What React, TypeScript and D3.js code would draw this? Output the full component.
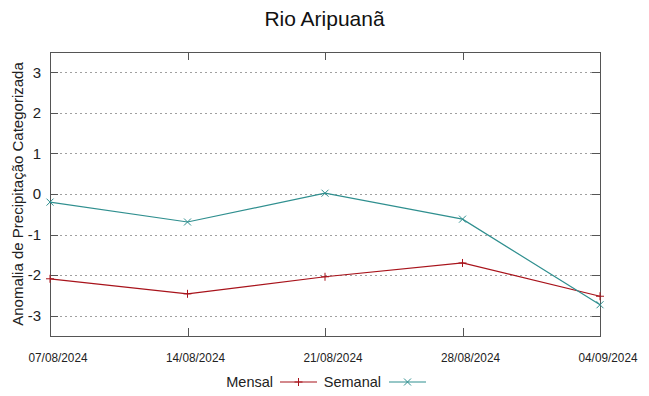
import React, { useEffect, useRef } from 'react';
import * as d3 from 'd3';

const dates = ['2024-08-07', '2024-08-14', '2024-08-21', '2024-08-28', '2024-09-04'];
const mensal = [-2.09, -2.46, -2.04, -1.7, -2.52];
const semanal = [-0.2, -0.69, 0.02, -0.62, -2.73];
const yTicks = [-3, -2, -1, 0, 1, 2, 3];

const RED = '#a8131b';
const TEAL = '#2f8f8f';

const App = () => {
    const svgRef = useRef<SVGSVGElement>(null);

    useEffect(() => {
        const width = 649;
        const height = 396;
        const margin = { left: 50, right: 49, top: 52, bottom: 60 };
        const font = 'Liberation Sans, Arial, sans-serif';

        const svg = d3.select(svgRef.current);
        svg.selectAll('*').remove();
        svg.attr('width', width).attr('height', height);

        const parse = d3.timeParse('%Y-%m-%d');
        const days = dates.map(d => parse(d) as Date);

        const x = d3.scaleTime()
            .domain([days[0], days[days.length - 1]])
            .range([margin.left, width - margin.right]);
        const y = d3.scaleLinear()
            .domain([-3.5, 3.5])
            .range([height - margin.bottom, margin.top]);

        const x0 = margin.left, x1 = width - margin.right;
        const y0 = height - margin.bottom, y1 = margin.top;

        // grid
        svg.append('g').selectAll('line')
            .data(yTicks)
            .enter()
            .append('line')
            .attr('x1', x0).attr('x2', x1)
            .attr('y1', d => Math.round(y(d)) + 0.5).attr('y2', d => Math.round(y(d)) + 0.5)
            .attr('stroke', '#a0a0a0')
            .attr('stroke-dasharray', '2,3')
            .attr('stroke-width', 1);

        // tick marks (inward, mirrored)
        const tk = svg.append('g').attr('stroke', '#555').attr('stroke-width', 1);
        yTicks.forEach(t => {
            const yy = Math.round(y(t)) + 0.5;
            tk.append('line').attr('x1', x0).attr('x2', x0 + 8).attr('y1', yy).attr('y2', yy);
            tk.append('line').attr('x1', x1 - 8).attr('x2', x1).attr('y1', yy).attr('y2', yy);
        });
        days.forEach(d => {
            const xx = Math.round(x(d)) + 0.5;
            tk.append('line').attr('x1', xx).attr('x2', xx).attr('y1', y0).attr('y2', y0 - 8);
            tk.append('line').attr('x1', xx).attr('x2', xx).attr('y1', y1).attr('y2', y1 + 8);
        });

        // border
        svg.append('rect')
            .attr('x', x0 + 0.5).attr('y', y1 + 0.5)
            .attr('width', x1 - x0).attr('height', y0 - y1)
            .attr('fill', 'none')
            .attr('stroke', '#555')
            .attr('stroke-width', 1);

        // y labels
        svg.append('g').selectAll('text')
            .data(yTicks)
            .enter()
            .append('text')
            .attr('x', x0 - 9)
            .attr('y', d => y(d))
            .attr('dy', '0.35em')
            .attr('text-anchor', 'end')
            .attr('font-family', font)
            .attr('font-size', 15)
            .attr('fill', '#222')
            .text(d => d);

        // x labels (narrow face, shifted right like the source)
        const fmt = d3.timeFormat('%d/%m/%Y');
        svg.append('g').selectAll('text')
            .data(days)
            .enter()
            .append('text')
            .attr('x', d => x(d) + 8)
            .attr('y', y0 + 26)
            .attr('text-anchor', 'middle')
            .attr('font-family', 'Liberation Sans Narrow, Liberation Sans, sans-serif')
            .attr('font-size', 13)
            .attr('textLength', 59)
            .attr('lengthAdjust', 'spacingAndGlyphs')
            .attr('fill', '#222')
            .text(d => fmt(d));

        // title
        svg.append('text')
            .attr('x', width / 2)
            .attr('y', 26)
            .attr('text-anchor', 'middle')
            .attr('font-family', font)
            .attr('font-size', 21)
            .attr('fill', '#111')
            .text('Rio Aripuanã');

        // y axis title
        svg.append('text')
            .attr('transform', `translate(23, ${(y0 + y1) / 2}) rotate(-90)`)
            .attr('text-anchor', 'middle')
            .attr('font-family', font)
            .attr('font-size', 15)
            .attr('fill', '#222')
            .text('Anomalia de Precipitação Categorizada');

        const line = d3.line<number>()
            .x((_, i) => x(days[i]))
            .y(d => y(d));

        const plus = (g: any, cx: number, cy: number, color: string) => {
            g.append('path')
                .attr('d', `M${cx - 4},${cy}H${cx + 4}M${cx},${cy - 4}V${cy + 4}`)
                .attr('stroke', color).attr('stroke-width', 1);
        };
        const cross = (g: any, cx: number, cy: number, color: string) => {
            g.append('path')
                .attr('d', `M${cx - 3.5},${cy - 3.5}L${cx + 3.5},${cy + 3.5}M${cx - 3.5},${cy + 3.5}L${cx + 3.5},${cy - 3.5}`)
                .attr('stroke', color).attr('stroke-width', 1);
        };

        const series = [
            { name: 'Mensal', values: mensal, color: RED, mark: plus },
            { name: 'Semanal', values: semanal, color: TEAL, mark: cross },
        ];

        series.forEach(s => {
            const g = svg.append('g');
            g.append('path')
                .datum(s.values)
                .attr('d', line)
                .attr('fill', 'none')
                .attr('stroke', s.color)
                .attr('stroke-width', 1.2);
            s.values.forEach((v, i) => s.mark(g, x(days[i]), y(v), s.color));
        });

        // legend
        const ly = 382;
        const legendPos = [{ textEnd: 273, lx: 280 }, { textEnd: 381, lx: 389 }];
        series.forEach((s, i) => {
            const p = legendPos[i];
            svg.append('text')
                .attr('x', p.textEnd)
                .attr('y', ly)
                .attr('dy', '0.35em')
                .attr('text-anchor', 'end')
                .attr('font-family', font)
                .attr('font-size', 14.5)
                .attr('fill', '#222')
                .text(s.name);
            svg.append('line')
                .attr('x1', p.lx).attr('x2', p.lx + 37)
                .attr('y1', ly).attr('y2', ly)
                .attr('stroke', s.color).attr('stroke-width', 1.2);
            s.mark(svg, p.lx + 18.5, ly, s.color);
        });
    }, []);

    return (
        <div style={{ position: 'absolute', left: 0, top: 0 }}>
            <svg ref={svgRef}></svg>
        </div>
    );
};

export default App;
